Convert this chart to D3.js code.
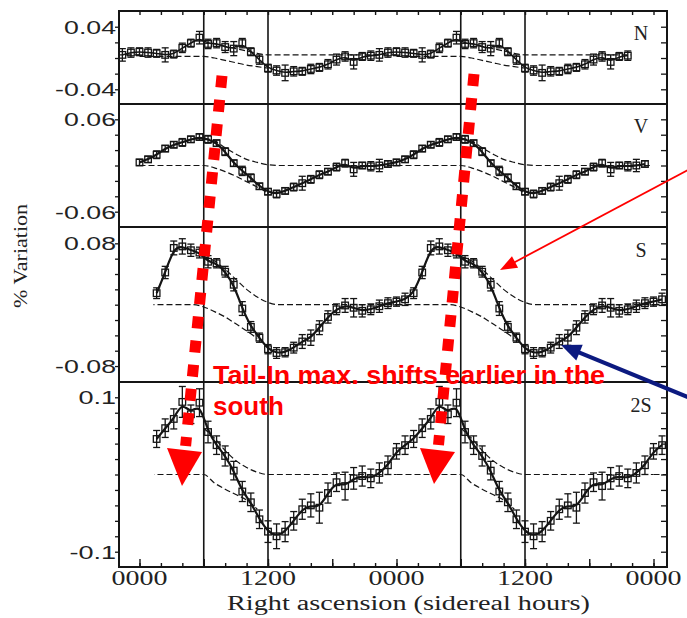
<!DOCTYPE html>
<html><head><meta charset="utf-8">
<script src="https://cdn.jsdelivr.net/npm/d3@7/dist/d3.min.js"></script>
<style>body{margin:0;background:#fff}svg{display:block}</style>
</head><body><svg id="c" width="687" height="618"></svg>
<script>
// ---------------- data ----------------
const panelNames = ["N", "V", "S", "2S"];
// bin centres (sidereal hours) of one 24 h cycle
const binHours = [0,0.8,1.6,2.4,3.2,4,4.8,5.6,6.4,7.2,8,8.8,9.6,10.4,11.2,12,12.8,13.6,14.4,15.2,16,16.8,17.6,18.4,19.2,20,20.8,21.6,22.4,23.2];

const nValues  = [0.008,0.007,0.006,0.004,0.005,0.013,0.019,0.026,0.018,0.019,0.014,0.012,0.019,0.008,-0.002,-0.013,-0.016,-0.019,-0.017,-0.017,-0.014,-0.012,-0.008,-0.002,0.002,-0.005,0.002,0.003,0.004,0.007];
const nErrors  = [0.005,0.006,0.005,0.009,0.005,0.006,0.005,0.008,0.006,0.006,0.007,0.009,0.006,0.005,0.006,0.005,0.006,0.010,0.006,0.005,0.006,0.005,0.006,0.007,0.006,0.009,0.005,0.006,0.008,0.006];

const vValues  = [0.004,0.008,0.014,0.022,0.027,0.030,0.034,0.037,0.034,0.029,0.018,0.003,-0.007,-0.016,-0.027,-0.034,-0.037,-0.033,-0.028,-0.023,-0.018,-0.012,-0.008,-0.002,0.003,-0.005,0.000,-0.001,0.000,0.002];
const vErrors  = [0.004,0.004,0.005,0.004,0.004,0.005,0.004,0.004,0.005,0.004,0.005,0.004,0.006,0.005,0.004,0.004,0.005,0.004,0.005,0.009,0.005,0.005,0.004,0.005,0.005,0.009,0.004,0.006,0.008,0.004];

const sValues  = [0.004,0.007,0.015,0.042,0.074,0.076,0.071,0.068,0.056,0.054,0.043,0.026,-0.005,-0.029,-0.043,-0.058,-0.063,-0.062,-0.056,-0.048,-0.043,-0.030,-0.016,-0.006,-0.001,-0.004,-0.008,-0.006,-0.002,0.002];
const sErrors  = [0.006,0.008,0.007,0.008,0.009,0.010,0.008,0.007,0.008,0.006,0.007,0.008,0.009,0.007,0.006,0.006,0.007,0.006,0.007,0.009,0.010,0.009,0.008,0.007,0.009,0.012,0.008,0.007,0.008,0.007];

const s2Values = [0.030,0.038,0.046,0.060,0.072,0.094,0.078,0.093,0.055,0.038,0.024,0.005,-0.022,-0.036,-0.058,-0.074,-0.080,-0.074,-0.060,-0.045,-0.040,-0.043,-0.024,-0.010,-0.015,-0.005,-0.002,-0.005,0.002,0.012];
const s2Errors = [0.010,0.012,0.011,0.012,0.013,0.020,0.012,0.018,0.014,0.012,0.013,0.012,0.013,0.012,0.012,0.014,0.016,0.013,0.012,0.013,0.015,0.020,0.013,0.012,0.018,0.014,0.013,0.012,0.013,0.012];

// model curves (dashed), one 24 h cycle, hourly
const modelHours = [0,1,2,3,4,5,6,7,8,9,10,11,12,13,14,15,16,17,18,19,20,21,22,23,24];
const nUpper  = [null,null,null,null,null,null,0.019,0.018,0.015,0.012,0.009,0.006,0.004,0.004,0.004,0.004,0.004,0.004,0.004,0.004,0.004,0.004,0.004,0.004,0.004];
const nLower  = [0.002,0.002,0.002,0.002,0.002,0.002,0.002,0.000,-0.003,-0.006,-0.009,-0.011,-0.013,null,null,null,null,null,null,null,null,null,null,null,null];
const vUpper  = [null,null,null,null,null,null,0.035,0.032,0.023,0.015,0.008,0.004,0.001,0,0,0,0,0,0,0,0,0,0,0,0];
const vLower  = [0,0,0,0,0,0,0,-0.003,-0.008,-0.014,-0.021,-0.028,-0.036,null,null,null,null,null,null,null,null,null,null,null,null];
const sUpper  = [null,null,null,null,null,null,0.063,0.057,0.046,0.033,0.020,0.010,0.003,0,0,0,0,0,0,0,0,0,0,0,0];
const sLower  = [0,0,0,0,0,0,-0.003,-0.009,-0.016,-0.025,-0.034,-0.044,null,null,null,null,null,null,null,null,null,null,null,null,null];
const s2Upper = [null,null,null,null,null,null,0.060,0.047,0.031,0.018,0.009,0.003,0,0,0,0,0,0,0,0,0,0,0,0,0];
const s2Lower = [0,0,0,0,0,0,0,-0.011,-0.019,-0.026,-0.033,-0.045,null,null,null,null,null,null,null,null,null,null,null,null,null];

// visible hour range of each panel's data
const panelStart = [-1.9, 0, 1.3, 1.4];
const panelEnd   = [45.9, 47.8, 49.3, 49.3];

// y tick labels
const yTickValues = [[0.04,-0.04],[0.06,-0.06],[0.08,-0.08],[0.1,-0.1]];
const yTickLabels = [["0.04","-0.04"],["0.06","-0.06"],["0.08","-0.08"],["0.1","-0.1"]];
const yDomains = [[-0.0588,0.0601],[-0.0799,0.0799],[-0.1008,0.1013],[-0.1198,0.1198]];

// x ticks
const xTickHours  = [0,12,24,36,48];
const xTickLabels = ["0000","1200","0000","1200","0000"];
const xGuideHours = [6,12,30,36];

// ---------------- layout ----------------
const W = 687, H = 618;
const X0 = 119, X1 = 667;
const panelTops = [11,104,227,382], panelBottoms = [104,227,382,567];

const svg = d3.select("#c");
svg.append("rect").attr("width",W).attr("height",H).attr("fill","#fff");
const defs = svg.append("defs");

const x = d3.scaleLinear().domain([-1.914, 49.26]).range([X0, X1]);

const panels = [
  {values:nValues, errors:nErrors, upper:nUpper, lower:nLower},
  {values:vValues, errors:vErrors, upper:vUpper, lower:vLower},
  {values:sValues, errors:sErrors, upper:sUpper, lower:sLower},
  {values:s2Values, errors:s2Errors, upper:s2Upper, lower:s2Lower}
];
const cycles = [-24, 0, 24, 48];
const ink = "#151515";

panels.forEach((P, k) => {
  const top = panelTops[k], bot = panelBottoms[k];
  const y = d3.scaleLinear().domain(yDomains[k]).range([bot, top]);
  const g = svg.append("g");
  const start = panelStart[k], end = panelEnd[k];

  const clipId = "clip" + k;
  defs.append("clipPath").attr("id", clipId).append("rect")
    .attr("x", x(start)).attr("y", top).attr("width", x(end) - x(start)).attr("height", bot - top);

  // dashed model curves
  const mline = d3.line().defined(d => d.v != null).x(d => x(d.t)).y(d => y(d.v)).curve(d3.curveMonotoneX);
  const mg = g.append("g").attr("clip-path", `url(#${clipId})`);
  cycles.forEach(off => {
    [P.upper, P.lower].forEach(arr => {
      const pts = modelHours.map((h, i) => ({t: h + off, v: arr[i]}));
      mg.append("path").attr("d", mline(pts)).attr("fill","none")
        .attr("stroke", ink).attr("stroke-width", 1.2).attr("stroke-dasharray", "6,3");
    });
  });

  // data points
  const pts = [];
  cycles.forEach(off => binHours.forEach((h, i) => {
    const t = h + off;
    if (t >= start && t <= end) pts.push({t, v: P.values[i], e: P.errors[i]});
  }));
  pts.sort((a, b) => a.t - b.t);

  // smooth solid curve
  g.append("path")
    .attr("d", d3.line().x(d => x(d.t)).y(d => y(d.v)).curve(d3.curveBasis)(pts))
    .attr("fill","none").attr("stroke", ink).attr("stroke-width", k === 0 ? 1.6 : 2.2);

  // error bars
  const eb = g.append("g").attr("stroke", ink).attr("stroke-width", 1.3);
  pts.forEach(d => {
    const cx = x(d.t), y1 = y(d.v + d.e), y2 = y(d.v - d.e);
    eb.append("line").attr("x1", cx).attr("x2", cx).attr("y1", y1).attr("y2", y2);
    eb.append("line").attr("x1", cx - 3.5).attr("x2", cx + 3.5).attr("y1", y1).attr("y2", y1);
    eb.append("line").attr("x1", cx - 3.5).attr("x2", cx + 3.5).attr("y1", y2).attr("y2", y2);
  });
  // open squares
  g.selectAll("rect.sq").data(pts).enter().append("rect").attr("class","sq")
    .attr("x", d => x(d.t) - 3.3).attr("y", d => y(d.v) - 3.3)
    .attr("width", 6.6).attr("height", 6.6)
    .attr("fill", "none").attr("stroke", ink).attr("stroke-width", 1.3);

  // y ticks (every 0.02)
  const minor = d3.range(-0.12, 0.1201, 0.02).map(v => +v.toFixed(2)).filter(v => y(v) > top + 2 && y(v) < bot - 2);
  const la = g.append("g").attr("transform", `translate(${X0},0)`)
    .call(d3.axisLeft(y).tickValues(minor).tickSize(4).tickFormat(""));
  la.select(".domain").remove();
  la.selectAll("line").attr("stroke", ink).attr("stroke-width", 1.3);
  const ra = g.append("g").attr("transform", `translate(${X1},0)`)
    .call(d3.axisLeft(y).tickValues(minor).tickSize(6).tickFormat(""));
  ra.select(".domain").remove();
  ra.selectAll("line").attr("stroke", ink).attr("stroke-width", 1.3);

  // y tick labels
  yTickValues[k].forEach((v, j) => {
    const lab = yTickLabels[k][j];
    const digits = lab.replace(/[^0-9]/g, "").length;
    g.append("text").attr("x", 116).attr("y", y(v)).attr("dy", "0.36em")
      .attr("text-anchor", "end")
      .attr("font-family", "'Liberation Sans', Arial, sans-serif").attr("font-size", 19)
      .attr("textLength", digits * 14.3 + (lab.length - digits) * 9)
      .attr("lengthAdjust", "spacingAndGlyphs")
      .attr("fill", "#222").text(lab);
  });

  // panel label
  g.append("text").attr("x", X1 - 26).attr("y", top + (k === 0 ? 29 : k === 1 ? 29 : k === 2 ? 30 : 30))
    .attr("text-anchor", "middle")
    .attr("font-family", "'Liberation Serif', 'Times New Roman', serif").attr("font-size", 20)
    .attr("fill", "#222").text(panelNames[k]);
});

// vertical guide lines
xGuideHours.forEach(h => {
  svg.append("line").attr("x1", x(h)).attr("x2", x(h)).attr("y1", panelTops[0]).attr("y2", panelBottoms[3])
    .attr("stroke", ink).attr("stroke-width", 1.6);
});
// panel separators
panelTops.slice(1).forEach(t => {
  svg.append("line").attr("x1", X0).attr("x2", X1).attr("y1", t).attr("y2", t)
    .attr("stroke", ink).attr("stroke-width", 1.8);
});

// x ticks: top (inward) and bottom (inward, longer every 6 h)
const twoHour = d3.range(0, 49, 2);
const sixHour = twoHour.filter(h => h % 6 === 0);
const ta = svg.append("g").attr("transform", `translate(0,${panelTops[0]})`)
  .call(d3.axisBottom(x).tickValues(twoHour).tickSize(4).tickFormat(""));
ta.select(".domain").remove(); ta.selectAll("line").attr("stroke", ink).attr("stroke-width", 1.4);
const ba = svg.append("g").attr("transform", `translate(0,${panelBottoms[3]})`)
  .call(d3.axisTop(x).tickValues(twoHour).tickSize(4).tickFormat(""));
ba.select(".domain").remove(); ba.selectAll("line").attr("stroke", ink).attr("stroke-width", 1.4);
const bb = svg.append("g").attr("transform", `translate(0,${panelBottoms[3]})`)
  .call(d3.axisTop(x).tickValues(sixHour).tickSize(8).tickFormat(""));
bb.select(".domain").remove(); bb.selectAll("line").attr("stroke", ink).attr("stroke-width", 1.4);

// frame
svg.append("rect").attr("x", X0).attr("y", panelTops[0]).attr("width", X1 - X0).attr("height", panelBottoms[3] - panelTops[0])
  .attr("fill", "none").attr("stroke", ink).attr("stroke-width", 2);

// x tick labels
xTickHours.forEach((h, i) => {
  svg.append("text").attr("x", x(h)).attr("y", 585).attr("text-anchor", "middle")
    .attr("font-family", "'Liberation Serif', 'Times New Roman', serif").attr("font-size", 20)
    .attr("textLength", 56).attr("lengthAdjust", "spacingAndGlyphs")
    .attr("fill", "#222").text(xTickLabels[i]);
});
// axis titles
svg.append("text").attr("x", 227).attr("y", 610)
  .attr("font-family", "'Liberation Serif', 'Times New Roman', serif").attr("font-size", 20)
  .attr("textLength", 363).attr("lengthAdjust", "spacingAndGlyphs")
  .attr("fill", "#222").text("Right ascension (sidereal hours)");
svg.append("text").attr("transform", "translate(27,256) rotate(-90)").attr("text-anchor", "middle")
  .attr("font-family", "'Liberation Serif', 'Times New Roman', serif").attr("font-size", 19)
  .attr("textLength", 104).attr("lengthAdjust", "spacingAndGlyphs")
  .attr("fill", "#222").text("% Variation");

// ---------------- annotations ----------------
const red = "#ff0000";
function dotted(x1, y1, x2, y2) {
  svg.append("line").attr("x1", x1).attr("y1", y1).attr("x2", x2).attr("y2", y2)
    .attr("stroke", red).attr("stroke-width", 11).attr("stroke-dasharray", "12,12.2");
}
dotted(222, 75.7, 185.6, 446);
dotted(474, 74, 438.5, 445);
svg.append("polygon").attr("points", "167,448 202,452 182,486").attr("fill", red);
svg.append("polygon").attr("points", "420,448 455,452 434,484").attr("fill", red);

function arrow(x1, y1, x2, y2, color, width, hl, hw) {
  const dx = x2 - x1, dy = y2 - y1, L = Math.hypot(dx, dy), ux = dx / L, uy = dy / L;
  const bx = x2 - ux * hl, by = y2 - uy * hl;
  svg.append("line").attr("x1", x1).attr("y1", y1).attr("x2", bx + ux * 2).attr("y2", by + uy * 2)
    .attr("stroke", color).attr("stroke-width", width);
  svg.append("polygon").attr("points",
    `${x2},${y2} ${bx - uy * hw},${by + ux * hw} ${bx + uy * hw},${by - ux * hw}`).attr("fill", color);
}
arrow(700, 163.5, 500, 270, red, 1.8, 17, 6.5);
arrow(700, 402, 561, 345, "#0c1a80", 4.2, 20, 8.5);

svg.append("text").attr("x", 213).attr("y", 384)
  .attr("font-family", "'Liberation Sans', Arial, sans-serif").attr("font-weight", "bold").attr("font-size", 26)
  .attr("textLength", 392).attr("lengthAdjust", "spacingAndGlyphs")
  .attr("fill", red).text("Tail-In max. shifts earlier in the");
svg.append("text").attr("x", 213).attr("y", 415)
  .attr("font-family", "'Liberation Sans', Arial, sans-serif").attr("font-weight", "bold").attr("font-size", 26)
  .attr("fill", red).text("south");
</script>
</body></html>
